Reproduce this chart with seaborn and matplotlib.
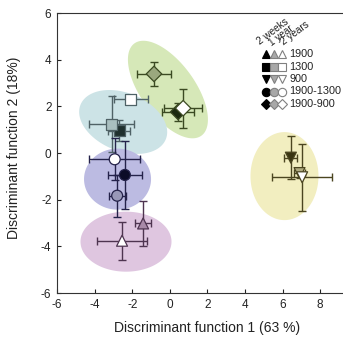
import numpy as np
import pandas as pd
import matplotlib
matplotlib.use("Agg")
import matplotlib.pyplot as plt
import seaborn as sns

sns.set_theme(style="white")
plt.rcParams['font.family'] = ['Liberation Sans', 'DejaVu Sans']
plt.rcParams['axes.unicode_minus'] = False

# ---- data ----
sites = ["1900", "1300", "900", "1900-1300", "1900-900"]
periods = ["2 weeks", "1 year", "2 years"]

site_col = ["1900-900", "1900-900", "1900-900",
            "1300", "1300", "1300",
            "1900-1300", "1900-1300", "1900-1300",
            "1900", "1900",
            "900", "900", "900"]
period_col = ["2 weeks", "1 year", "2 years",
              "2 weeks", "1 year", "2 years",
              "2 weeks", "1 year", "2 years",
              "1 year", "2 years",
              "2 weeks", "1 year", "2 years"]
df1 = [0.44, -0.84, 0.71,
       -2.70, -3.10, -2.07,
       -2.39, -2.80, -2.93,
       -1.42, -2.54,
       6.44, 6.90, 7.04]
df2 = [1.76, 3.39, 1.92,
       0.96, 1.23, 2.30,
       -0.94, -1.83, -0.27,
       -3.02, -3.76,
       -0.20, -0.86, -1.04]
err1 = [0.85, 0.90, 1.00,
        0.60, 1.20, 0.90,
        0.89, 0.45, 1.37,
        0.43, 1.35,
        0.35, 0.30, 1.60]
err2 = [0.40, 0.52, 0.83,
        0.45, 1.20, 0.08,
        1.47, 0.90, 0.90,
        0.98, 0.82,
        0.91, 0.20, 1.43]

df = pd.DataFrame({"site": site_col, "period": period_col,
                   "DF1": df1, "DF2": df2, "e1": err1, "e2": err2})

markers = {"1900": "^", "1300": "s", "900": "v", "1900-1300": "o", "1900-900": "D"}
group_edge = {"1900-900": "#3b4a22", "1300": "#4f6266", "1900-1300": "#24224a",
              "1900": "#4e3450", "900": "#4b4520"}
group_fill = {"1900-900": {"2 weeks": "#1c2a10", "1 year": "#9aa87e", "2 years": "#ffffff"},
              "1300": {"2 weeks": "#1f302e", "1 year": "#a9bfc0", "2 years": "#ffffff"},
              "1900-1300": {"2 weeks": "#0c0c28", "1 year": "#9898b8", "2 years": "#ffffff"},
              "1900": {"2 weeks": "#2a1a2a", "1 year": "#a88aa8", "2 years": "#ffffff"},
              "900": {"2 weeks": "#3a3512", "1 year": "#b0ab80", "2 years": "#ffffff"}}
# ellipses (center in data units, semi-axes in pixels, tilt in screen degrees)
ell_site = ["1900-900", "1300", "1900-1300", "1900", "900"]
ell_cx = [-0.10, -2.48, -2.78, -2.33, 6.10]
ell_cy = [2.72, 1.33, -1.12, -3.80, -0.99]
ell_a = [57, 46, 33.5, 45.5, 34]
ell_b = [27, 29, 30.5, 30, 44]
ell_ang = [54, 22, 0, 0, 0]
ell_color = ["#d6e8b8", "#cce3e6", "#bcbbe2", "#dfc6e0", "#f2eec0"]

W, H = 343, 341
fig = plt.figure(figsize=(W / 100, H / 100), dpi=100)
x0, x1 = -6, 10
ax_left, ax_bottom = 57 / W, (H - 293) / H
AXW = 16 * 18.8
AXH = 280
ax = fig.add_axes([ax_left, ax_bottom, AXW / W, AXH / H])
ax.set_xlim(x0, x1)
ax.set_ylim(-6, 6)

sx = 18.8   # px per x unit
sy = 23.33  # px per y unit
t = np.linspace(0, 2 * np.pi, 200)
for cx, cy, a, b, ang, col in zip(ell_cx, ell_cy, ell_a, ell_b, ell_ang, ell_color):
    th = np.deg2rad(ang)
    px = a * np.cos(t) * np.cos(th) - b * np.sin(t) * np.sin(th)
    py = a * np.cos(t) * np.sin(th) + b * np.sin(t) * np.cos(th)
    ax.fill(cx + px / sx, cy - py / sy, color=col, lw=0, zorder=1)

for _, r in df.iterrows():
    ax.errorbar(r.DF1, r.DF2, xerr=r.e1, yerr=r.e2, fmt="none",
                ecolor=group_edge[r.site], elinewidth=1.0, capsize=2.8,
                capthick=1.0, zorder=2)

df["key"] = df["site"] + "|" + df["period"]
palette = {k: group_fill[s][p] for k, s, p in zip(df.key, df.site, df.period)}
for s in sites:
    sub = df[df.site == s]
    if len(sub) == 0:
        continue
    sns.scatterplot(data=sub, x="DF1", y="DF2", hue="key", palette=palette,
                    marker=markers[s], s=62, edgecolor=group_edge[s],
                    linewidth=0.9, legend=False, ax=ax, zorder=3)

ax.set_xticks(range(-6, 9, 2))
ax.set_yticks(range(-6, 7, 2))
ax.tick_params(direction="in", length=3, width=0.8, labelsize=8.5, pad=4,
               colors="#222222", bottom=True, left=True)
for sp in ["left", "bottom", "top"]:
    ax.spines[sp].set_color("#333333")
    ax.spines[sp].set_linewidth(0.8)
ax.spines["right"].set_visible(False)
ax.set_xlabel("Discriminant function 1 (63 %)", fontsize=10, color="#222222")
ax.set_ylabel("Discriminant function 2 (18%)", fontsize=10, color="#222222")
ax.xaxis.set_label_coords((207 - 57) / AXW, -(321 - 293) / AXH)
ax.yaxis.set_label_coords(-(57 - 21) / AXW, (293 - 148) / AXH)

# ---- manual legend ----
col_x = [265.7, 273.5, 281.7]
row_y = [54, 66.5, 79, 91.5, 104]
leg_fill = ["#000000", "#a8a8a8", "#ffffff"]
leg_edge = ["#000000", "#808080", "#808080"]
for i, s in enumerate(sites):
    fy = 1 - row_y[i] / H
    for j in range(3):
        fig.lines.append(plt.Line2D([col_x[j] / W], [fy], marker=markers[s],
                                    markersize=6 if markers[s] != "D" else 5.3,
                                    markerfacecolor=leg_fill[j], markeredgecolor=leg_edge[j],
                                    markeredgewidth=0.8, linestyle="none",
                                    transform=fig.transFigure))
    fig.text(289 / W, fy, s, fontsize=7.8, va="center", ha="left", color="#222222")
head_x = [261, 273, 285]
head_y = [47, 48, 47]
for j, p in enumerate(periods):
    fig.text(head_x[j] / W, 1 - head_y[j] / H, p, fontsize=7.2, rotation=37,
             rotation_mode="anchor", ha="left", va="bottom", color="#222222")

fig.savefig("out.png", dpi=100)
